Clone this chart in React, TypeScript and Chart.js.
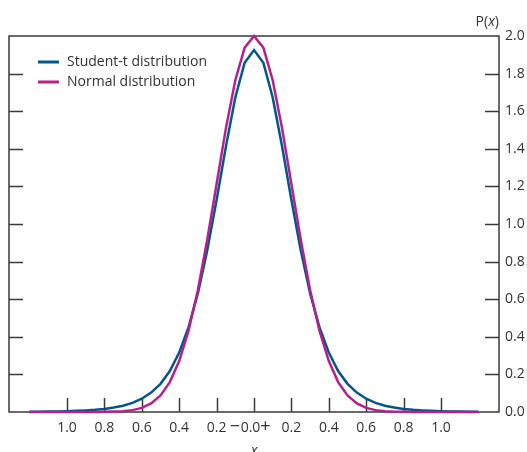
import React, { useEffect, useRef } from "react";
import { Chart, registerables } from "chart.js";

Chart.register(...registerables);

// x positions of the sampled curve points
const xValues = [
  -1.2, -1.15, -1.1, -1.05, -1.0, -0.95, -0.9, -0.85, -0.8, -0.75, -0.7, -0.65,
  -0.6, -0.55, -0.5, -0.45, -0.4, -0.35, -0.3, -0.25, -0.2, -0.15, -0.1, -0.05,
  0,
  0.05, 0.1, 0.15, 0.2, 0.25, 0.3, 0.35, 0.4, 0.45, 0.5, 0.55, 0.6, 0.65, 0.7,
  0.75, 0.8, 0.85, 0.9, 0.95, 1.0, 1.05, 1.1, 1.15, 1.2,
];

const studentT = [
  0.0014, 0.0018, 0.0024, 0.0032, 0.0044, 0.0061, 0.0084, 0.0117, 0.0165, 0.0235,
  0.0337, 0.0486, 0.0705, 0.103, 0.15, 0.218, 0.316, 0.451, 0.631, 0.86, 1.128,
  1.413, 1.673, 1.858,
  1.925,
  1.858, 1.673, 1.413, 1.128, 0.86, 0.631, 0.451, 0.316, 0.218, 0.15, 0.103,
  0.0705, 0.0486, 0.0337, 0.0235, 0.0165, 0.0117, 0.0084, 0.0061, 0.0044, 0.0032,
  0.0024, 0.0018, 0.0014,
];

const normal = [
  0, 0, 0, 0, 0, 0, 0, 0, 0.001, 0.002, 0.004, 0.01, 0.022, 0.046, 0.088, 0.159,
  0.271, 0.433, 0.649, 0.916, 1.213, 1.51, 1.765, 1.938,
  2.0,
  1.938, 1.765, 1.51, 1.213, 0.916, 0.649, 0.433, 0.271, 0.159, 0.088, 0.046,
  0.022, 0.01, 0.004, 0.002, 0.001, 0, 0, 0, 0, 0, 0, 0, 0,
];

const seriesNames = ["Student-t distribution", "Normal distribution"];
const seriesColors = ["#00578a", "#b5208e"];

const xTickValues = [-1.0, -0.8, -0.6, -0.4, -0.2, 0, 0.2, 0.4, 0.6, 0.8, 1.0];
const yTickValues = [0, 0.2, 0.4, 0.6, 0.8, 1.0, 1.2, 1.4, 1.6, 1.8, 2.0];

const FONT = "'Open Sans', 'Noto Sans', sans-serif";
const TEXT = "#333333";
const AXIS = "#3a3a3a";

export default function App() {
  const ref = useRef<HTMLCanvasElement | null>(null);

  useEffect(() => {
    if (!ref.current) return;

    const decorations = {
      id: "decorations",
      beforeDatasetsDraw(chart: any) {
        const { ctx, chartArea } = chart;
        const { left, right, top, bottom } = chartArea;
        const xs = chart.scales.x;
        const ys = chart.scales.y;
        ctx.save();
        ctx.strokeStyle = AXIS;
        ctx.lineWidth = 1.5;
        ctx.strokeRect(left, top, right - left, bottom - top);
        ctx.beginPath();
        yTickValues.forEach((v) => {
          if (v <= 0 || v >= 2) return;
          const py = Math.round(ys.getPixelForValue(v)) + 0.5;
          ctx.moveTo(left, py);
          ctx.lineTo(left + 14, py);
          ctx.moveTo(right - 14, py);
          ctx.lineTo(right, py);
        });
        xTickValues.forEach((v) => {
          const px = Math.round(xs.getPixelForValue(v)) + 0.5;
          ctx.moveTo(px, bottom);
          ctx.lineTo(px, bottom - 14);
        });
        ctx.stroke();
        ctx.restore();
      },
      afterDraw(chart: any) {
        const { ctx, chartArea } = chart;
        const xs = chart.scales.x;
        ctx.save();
        // legend
        ctx.font = `14px ${FONT}`;
        ctx.textBaseline = "middle";
        ctx.textAlign = "left";
        seriesNames.forEach((name, i) => {
          const y = 62 + i * 20;
          ctx.strokeStyle = seriesColors[i];
          ctx.lineWidth = 3;
          ctx.beginPath();
          ctx.moveTo(38, y);
          ctx.lineTo(59, y);
          ctx.stroke();
          ctx.fillStyle = TEXT;
          ctx.fillText(name, 67, y + 0.5);
        });
        // minus / plus signs around the zero tick label
        const zx = xs.getPixelForValue(0);
        ctx.font = `18px ${FONT}`;
        ctx.textAlign = "center";
        ctx.textBaseline = "middle";
        ctx.fillStyle = TEXT;
        ctx.fillText("\u2212", zx - 19, chartArea.bottom + 15);
        ctx.fillText("+", zx + 11.5, chartArea.bottom + 14.5);
        // P(x) label
        ctx.textAlign = "left";
        ctx.textBaseline = "alphabetic";
        const normalFont = `14px ${FONT}`;
        const italicFont = `italic 14px ${FONT}`;
        ctx.font = normalFont;
        const wP = ctx.measureText("P(").width;
        const wC = ctx.measureText(")").width;
        ctx.font = italicFont;
        const wX = ctx.measureText("x").width;
        let x0 = chartArea.right - (wP + wX + wC);
        const by = 26;
        ctx.font = normalFont;
        ctx.fillText("P(", x0, by);
        x0 += wP;
        ctx.font = italicFont;
        ctx.fillText("x", x0, by);
        x0 += wX;
        ctx.font = normalFont;
        ctx.fillText(")", x0, by);
        // x axis title
        ctx.font = italicFont;
        ctx.textAlign = "center";
        ctx.fillText("x", zx, 455);
        ctx.restore();
      },
    };

    const chart = new Chart(ref.current, {
      type: "line",
      data: {
        datasets: [
          {
            label: seriesNames[0],
            data: xValues.map((x, i) => ({ x, y: studentT[i] })),
            borderColor: seriesColors[0],
            backgroundColor: seriesColors[0],
            borderWidth: 2.5,
            pointRadius: 0,
            tension: 0,
            order: 1,
            clip: 6,
          },
          {
            label: seriesNames[1],
            data: xValues.map((x, i) => ({ x, y: normal[i] })),
            borderColor: seriesColors[1],
            backgroundColor: seriesColors[1],
            borderWidth: 2.5,
            pointRadius: 0,
            tension: 0,
            order: 0,
            clip: 6,
          },
        ],
      },
      options: {
        responsive: false,
        animation: false,
        layout: { padding: { left: 9, top: 36, right: 0, bottom: 0 } },
        plugins: {
          legend: { display: false },
          tooltip: { enabled: false },
        },
        scales: {
          x: {
            type: "linear",
            min: -1.31,
            max: 1.31,
            afterBuildTicks: (s: any) => {
              s.ticks = xTickValues.map((v) => ({ value: v }));
            },
            afterFit: (s: any) => {
              s.height = 40;
            },
            grid: { display: false, drawTicks: false },
            border: { display: false },
            ticks: {
              padding: 8,
              color: TEXT,
              font: { family: FONT, size: 14 },
              maxRotation: 0,
              autoSkip: false,
              callback: (v: any) => {
                const n = Number(v);
                if (Math.abs(n) < 1e-9) return "0.0\u2002";
                return Math.abs(n).toFixed(1);
              },
            },
          },
          y: {
            type: "linear",
            position: "right",
            min: 0,
            max: 2,
            afterBuildTicks: (s: any) => {
              s.ticks = yTickValues.map((v) => ({ value: v }));
            },
            afterFit: (s: any) => {
              s.width = 28;
            },
            grid: { display: false, drawTicks: false },
            border: { display: false },
            ticks: {
              padding: 6,
              color: TEXT,
              font: { family: FONT, size: 14 },
              callback: (v: any) => Number(v).toFixed(1),
            },
          },
        },
      },
      plugins: [decorations],
    });

    return () => chart.destroy();
  }, []);

  return (
    <div
      style={{
        position: "fixed",
        left: 0,
        top: 0,
        width: 527,
        height: 452,
        background: "#ffffff",
      }}
    >
      <canvas ref={ref} width={527} height={452} style={{ display: "block" }} />
    </div>
  );
}
